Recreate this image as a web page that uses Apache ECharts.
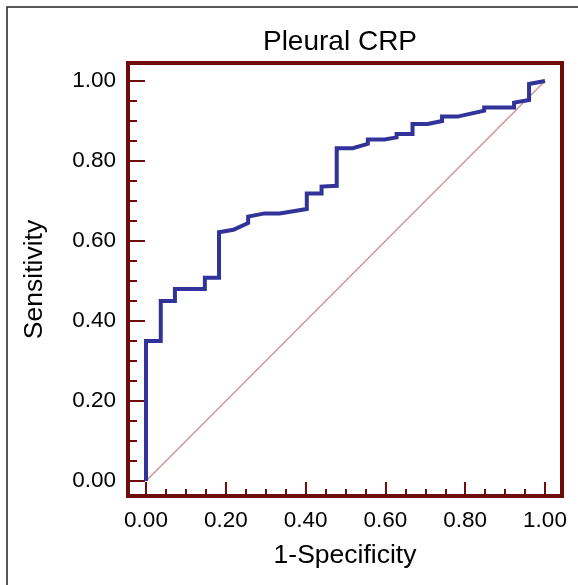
<!DOCTYPE html>
<html>
<head>
<meta charset="utf-8">
<script src="https://cdn.jsdelivr.net/npm/echarts@6/dist/echarts.min.js"></script>
<style>html,body{margin:0;padding:0;background:#fff}#c{width:578px;height:585px}</style>
</head>
<body>
<div id="c"></div>
<script>
var titleText = 'Pleural CRP';
var xName = '1-Specificity';
var yName = 'Sensitivity';
var majorTicks = [0, 0.2, 0.4, 0.6, 0.8, 1.0];
var minorTicks = [0.05, 0.1, 0.15, 0.25, 0.3, 0.35, 0.45, 0.5, 0.55, 0.65, 0.7, 0.75, 0.85, 0.9, 0.95];
var rocFpr  = [0, 0, 0.037, 0.037, 0.0725, 0.0725, 0.1475, 0.1475, 0.183, 0.183, 0.219, 0.223, 0.256, 0.256, 0.2975, 0.335, 0.403, 0.403, 0.44, 0.44, 0.478, 0.478, 0.518, 0.556, 0.556, 0.5975, 0.628, 0.628, 0.668, 0.668, 0.706, 0.742, 0.742, 0.781, 0.8475, 0.8475, 0.9225, 0.9225, 0.96, 0.96, 1.0];
var rocSens = [0, 0.35, 0.35, 0.45, 0.45, 0.48, 0.48, 0.508, 0.508, 0.622, 0.628, 0.633, 0.645, 0.661, 0.669, 0.669, 0.68, 0.719, 0.719, 0.736, 0.738, 0.832, 0.832, 0.843, 0.854, 0.854, 0.859, 0.8675, 0.8675, 0.8925, 0.8925, 0.9, 0.911, 0.911, 0.926, 0.934, 0.934, 0.946, 0.9525, 0.9925, 1.0];
var diagX = [0, 1];
var diagY = [0, 1];

var frameColor = '#6f0b0b';
var font = 'Liberation Sans, Arial, sans-serif';
var XMIN = -0.0451, XMAX = 1.0426, YMIN = -0.0375, YMAX = 1.045;

function axisCommon(min, max) {
  return { type: 'value', min: min, max: max, splitLine: { show: false },
           axisLine: { show: false, onZero: false } };
}
var chart = echarts.init(document.getElementById('c'), null, { renderer: 'canvas' });
var roc = rocFpr.map(function (x, i) { return [x, rocSens[i]]; });
var diag = diagX.map(function (x, i) { return [x, diagY[i]]; });
chart.setOption({
  animation: false,
  backgroundColor: '#fff',
  title: { text: titleText, left: 335, top: 23, textAlign: 'center',
           textStyle: { fontFamily: font, fontSize: 28, fontWeight: 'normal', color: '#000' } },
  grid: { left: 128, right: 16, top: 63, bottom: 89, show: true,
          borderColor: frameColor, borderWidth: 4, backgroundColor: 'transparent' },
  xAxis: [
    Object.assign(axisCommon(XMIN, XMAX), {
      position: 'bottom', name: xName, nameLocation: 'middle', nameGap: 46,
      nameTextStyle: { fontFamily: font, fontSize: 26.5, color: '#000' },
      axisTick: { show: true, inside: true, length: 14, customValues: majorTicks,
                  lineStyle: { color: frameColor, width: 2 } },
      axisLabel: { customValues: majorTicks, margin: 13, fontFamily: font, fontSize: 22.5, color: '#000',
                   formatter: function (v) { return v.toFixed(2); } }
    }),
    Object.assign(axisCommon(XMIN, XMAX), {
      position: 'bottom',
      axisTick: { show: true, inside: true, length: 7, customValues: minorTicks,
                  lineStyle: { color: frameColor, width: 2 } },
      axisLabel: { show: false }
    })
  ],
  yAxis: [
    Object.assign(axisCommon(YMIN, YMAX), {
      position: 'left', name: yName, nameLocation: 'middle', nameGap: 80,
      nameTextStyle: { fontFamily: font, fontSize: 26.5, color: '#000' },
      axisTick: { show: true, inside: true, length: 17, customValues: majorTicks,
                  lineStyle: { color: frameColor, width: 2 } },
      axisLabel: { customValues: majorTicks, margin: 12, fontFamily: font, fontSize: 22.5, color: '#000',
                   formatter: function (v) { return v.toFixed(2); } }
    }),
    Object.assign(axisCommon(YMIN, YMAX), {
      position: 'left',
      axisTick: { show: true, inside: true, length: 9, customValues: minorTicks,
                  lineStyle: { color: frameColor, width: 2 } },
      axisLabel: { show: false }
    })
  ],
  graphic: [
    { type: 'rect', shape: { x: 7, y: 7, width: 700, height: 700 }, silent: true,
      style: { fill: 'none', stroke: '#222', lineWidth: 1.5 } }
  ],
  series: [
    { type: 'line', data: diag, showSymbol: false, xAxisIndex: 0, yAxisIndex: 0,
      lineStyle: { color: '#cf9090', width: 1.3 }, z: 2 },
    { type: 'line', data: roc, showSymbol: false, xAxisIndex: 0, yAxisIndex: 0,
      lineStyle: { color: '#313399', width: 4, join: 'miter' }, z: 3 }
  ]
});
</script>
</body>
</html>
